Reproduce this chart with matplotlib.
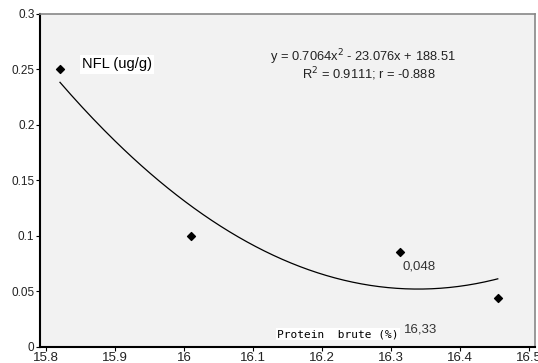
import numpy as np
import matplotlib
matplotlib.use("Agg")
import matplotlib.pyplot as plt

protein = [15.82, 16.01, 16.313, 16.455]
nfl = [0.25, 0.10, 0.085, 0.044]
xticks = [15.8, 15.9, 16.0, 16.1, 16.2, 16.3, 16.4, 16.5]
xticklabels = ["15.8", "15.9", "16", "16.1", "16.2", "16.3", "16.4", "16.5"]
yticks = [0, 0.05, 0.1, 0.15, 0.2, 0.25, 0.3]
yticklabels = ["0", "0.05", "0.1", "0.15", "0.2", "0.25", "0.3"]

plt.rcParams['font.family'] = ['Liberation Sans', 'DejaVu Sans']

fig = plt.figure(figsize=(5.38, 3.63), dpi=100)
ax = fig.add_axes([40/538, 1-346.7/363, (535-40)/538, (346.7-14)/363])
ax.set_facecolor('#f2f2f2')

coef = np.polyfit(protein, nfl, 2)
xs = np.linspace(protein[0], protein[-1], 200)
ax.plot(xs, np.polyval(coef, xs), color='black', lw=0.9)
ax.scatter(protein, nfl, marker='D', s=16, color='black', zorder=3)

ax.set_xlim(15.791, 16.509)
ax.set_ylim(0, 0.3)
ax.set_xticks(xticks)
ax.set_xticklabels(xticklabels)
ax.set_yticks(yticks)
ax.set_yticklabels(yticklabels)
ax.tick_params(axis='x', labelsize=9.5, length=3, width=0.8, pad=0.5, color='black', labelcolor='#222222')
ax.tick_params(axis='y', labelsize=8.5, length=3, width=0.8, pad=1, color='black', labelcolor='#222222')
for s in ['left', 'bottom']:
    ax.spines[s].set_color('black')
    ax.spines[s].set_linewidth(1.5)
for s in ['top', 'right']:
    ax.spines[s].set_color('#888888')
    ax.spines[s].set_linewidth(1.2)

ax.text(15.852, 0.2545, "NFL (ug/g)", fontsize=10.5, va='center', ha='left',
        bbox=dict(facecolor='white', edgecolor='none', pad=1.5))
ax.text(16.125, 0.2614, "y = 0.7064x$^2$ - 23.076x + 188.51", fontsize=9.3, ha='left', va='center',
        color='#222222')
ax.text(16.268, 0.2455, "R$^2$ = 0.9111; r = -0.888", fontsize=9.3, ha='center', va='center',
        color='#222222')
ax.text(16.317, 0.0719, "0,048", fontsize=9.5, ha='left', va='center', color='#333333')
ax.text(16.135, 0.0114, "Protein  brute (%)", fontsize=8, ha='left', va='center',
        family='DejaVu Sans Mono', bbox=dict(facecolor='white', edgecolor='none', pad=1))
ax.text(16.319, 0.0152, "16,33", fontsize=9.5, ha='left', va='center', color='#333333')

fig.savefig("out.png", dpi=100)
